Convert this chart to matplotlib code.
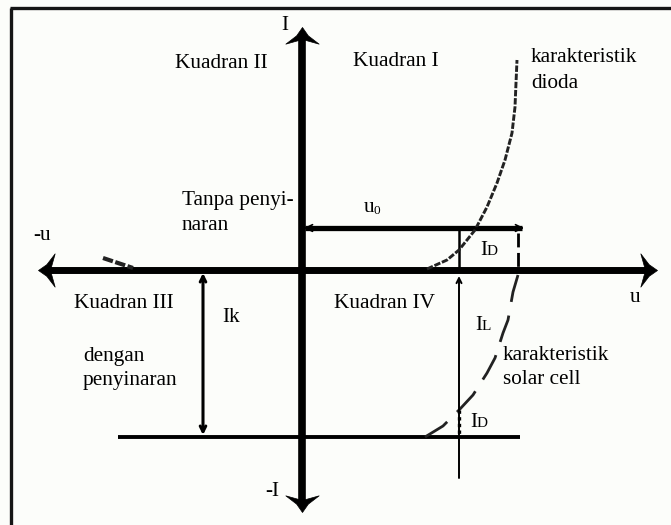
import numpy as np
import matplotlib
matplotlib.use("Agg")
import matplotlib.pyplot as plt
from matplotlib.path import Path
from matplotlib.markers import MarkerStyle
from matplotlib.transforms import Affine2D

plt.rcParams['font.family'] = ['Liberation Serif', 'DejaVu Serif']

# diode curve (forward part), u / I in drawing units
diode_u = [125, 145, 157, 173, 185, 195, 203, 210, 213, 214, 215]
diode_i = [1, 10, 20, 40, 63, 87, 110, 137, 163, 187, 210]
# small reverse part left of the origin
rev_u = [-199, -184, -169]
rev_i = [12, 7, 2]
# solar cell curve (diode curve pulled down by IL)
solar_u = [216, 211, 206, 201, 193, 185, 171, 158, 141, 123]
solar_i = [-5, -22, -50, -63, -88, -103, -125, -139, -156, -167]

u0 = 216        # open circuit voltage
IL = 167        # light current
Ik = 164        # short circuit current
u_op = 157      # working point
u_ik = -99      # where Ik is marked
i_u0 = 42       # height of the u0 arrow

fig = plt.figure(figsize=(6.71, 5.25), dpi=100)
fig.patch.set_facecolor('#fcfdfa')
ax = fig.add_axes([0, 0, 1, 1])
ax.set_facecolor('#fcfdfa')
ax.set_xlim(-302, 369)
ax.set_ylim(-255, 270)
ax.axis('off')

# frame (top + left)
ax.plot([-292, 369], [262, 262], color='#151515', lw=2.4, solid_capstyle='butt')
ax.plot([-291, -291], [262, -255], color='#151515', lw=2.4, solid_capstyle='butt')

# arrowhead marker, tip at origin pointing right
head = Path([(0, 0), (-0.5, 0.35), (-1.0, 1.0), (-0.72, 0.0),
             (-1.0, -1.0), (-0.5, -0.35), (0, 0)],
            [Path.MOVETO] + [Path.LINETO] * 5 + [Path.CLOSEPOLY])


def big_arrow(x, y, angle):
    m = MarkerStyle(head, transform=Affine2D().rotate_deg(angle))
    ax.plot([x], [y], marker=m, markersize=24, color='black', mec='black', mew=0.5)


# main axes
ax.plot([-255, 345], [0, 0], color='black', lw=5, solid_capstyle='butt')
ax.plot([0, 0], [-232, 233], color='black', lw=5.5, solid_capstyle='butt')
big_arrow(-264, 0, 180)
big_arrow(355, 0, 0)
big_arrow(0, 243, 90)
big_arrow(0, -242, -90)

# u0 arrow
ax.plot([3, u0 + 4], [i_u0, i_u0], color='black', lw=3.8, solid_capstyle='butt')
ax.annotate('', xy=(u0 + 6, i_u0), xytext=(2, i_u0),
            arrowprops=dict(arrowstyle='<->', lw=1.2, color='black',
                            shrinkA=0, shrinkB=0, mutation_scale=12))

# Ik arrow
ax.annotate('', xy=(u_ik, -3), xytext=(u_ik, -Ik - 1),
            arrowprops=dict(arrowstyle='<->', lw=2.2, color='black',
                            shrinkA=0, shrinkB=0, mutation_scale=10))

# lower line at -IL
ax.plot([-184, 218], [-IL, -IL], color='black', lw=2.8, solid_capstyle='butt')

# working point lines
ax.plot([u_op, u_op], [0, i_u0], color='black', lw=1.8)
ax.annotate('', xy=(u_op, -6), xytext=(u_op, -208),
            arrowprops=dict(arrowstyle='->', lw=1.4, color='black',
                            shrinkA=0, shrinkB=0, mutation_scale=9))
ax.plot([u_op, u_op], [-140, -167], color='black', lw=2.4, ls=(0, (1, 1)))
ax.plot([u0, u0], [i_u0 - 5, 0], color='black', lw=2.0, ls=(0, (5, 2)))

# curves
ax.plot(diode_u, diode_i, color='#222222', lw=2.1, ls=(0, (2.2, 0.6)))
ax.plot(rev_u, rev_i, color='#222222', lw=3.0, ls=(0, (2.5, 0.6)))
ax.plot(solar_u, solar_i, color='#222222', lw=2.0, ls=(0, (10, 5)))

fs = 15.3
txt = dict(fontsize=fs, color='black')

ax.text(-17, 245, 'I', ha='center', va='center', **txt)
ax.text(-30, -221, '-I', ha='center', va='center', **txt)
ax.text(-260, 35, '-u', ha='center', va='center', **txt)
ax.text(333, -28, 'u', ha='center', va='center', **txt)

ax.text(-81, 207, 'Kuadran II', ha='center', va='center', **txt)
ax.text(94, 208, 'Kuadran I', ha='center', va='center', **txt)
ax.text(-178, -33, 'Kuadran III', ha='center', va='center', **txt)
ax.text(83, -33, 'Kuadran IV', ha='center', va='center', **txt)

ax.text(229, 212, 'karakteristik', ha='left', va='center', **txt)
ax.text(229, 187, 'dioda', ha='left', va='center', **txt)
ax.text(201, -85, 'karakteristik', ha='left', va='center', **txt)
ax.text(201, -110, 'solar cell', ha='left', va='center', **txt)

ax.text(-120, 70, 'Tanpa penyi-', ha='left', va='center', **txt)
ax.text(-120, 44, 'naran', ha='left', va='center', **txt)
ax.text(-219, -87, 'dengan', ha='left', va='center', **txt)
ax.text(-219, -110, 'penyinaran', ha='left', va='center', **txt)

# u0 label
ax.text(62, 63, 'u', ha='left', va='center', **txt)
ax.text(72, 59, '0', ha='left', va='center', fontsize=9.5)

# current labels, small second letter
ax.text(-80, -48, 'Ik', ha='left', va='center', **txt)
ax.text(173, -60, 'I', ha='left', va='baseline', **txt)
ax.text(180, -60, 'L', ha='left', va='baseline', fontsize=11)
ax.text(178, 15, 'I', ha='left', va='baseline', **txt)
ax.text(185, 15, 'D', ha='left', va='baseline', fontsize=11)
ax.text(168, -157, 'I', ha='left', va='baseline', **txt)
ax.text(175, -157, 'D', ha='left', va='baseline', fontsize=11)

fig.savefig('out.png', dpi=100, facecolor=fig.get_facecolor())
